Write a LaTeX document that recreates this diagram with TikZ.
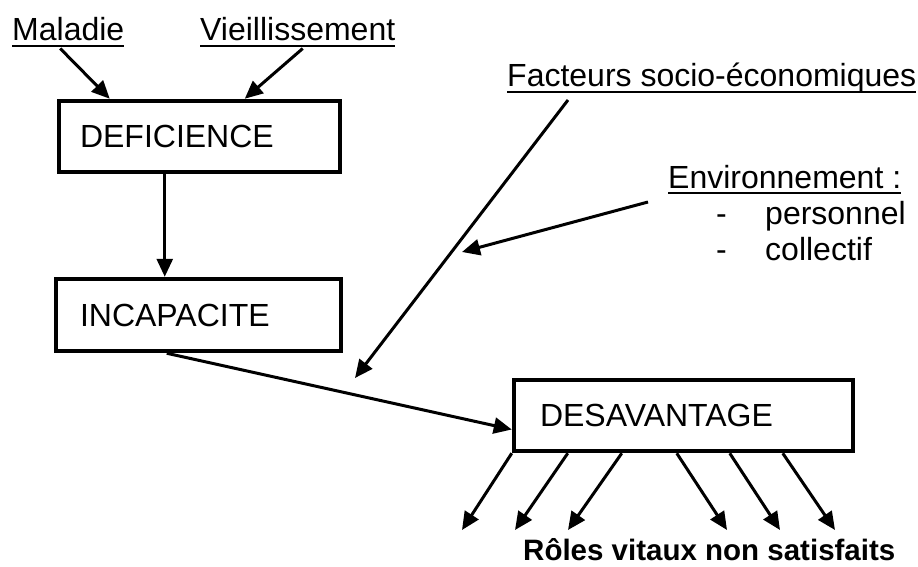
\documentclass[tikz,border=0pt]{standalone}
\usepackage{fontspec}
\setmainfont{Liberation Sans}
\usetikzlibrary{arrows.meta,calc}
\begin{document}
\begin{tikzpicture}[x=1pt,y=-1pt,
  txt/.style={inner sep=0pt, anchor=base west, font=\fontsize{32}{38}\selectfont},
  boldtxt/.style={inner sep=0pt, anchor=base west, font=\fontsize{29.5}{35}\selectfont\bfseries},
  box/.style={draw, line width=4.5pt, minimum height=71pt, align=left, inner ysep=0pt,
              font=\fontsize{32}{38}\selectfont},
  ul/.style={line width=2pt},
  arr/.style={line width=3pt, -{Triangle[length=18pt,width=16pt]}},
]
\useasboundingbox (0,0) rectangle (918,567);

% boxes
\node[box, text width=239pt, inner xsep=21pt] (def) at (199.5,136.5) {DEFICIENCE};
\node[box, text width=237pt, inner xsep=24pt, minimum height=72pt] (inc) at (198.5,315) {INCAPACITE};
\node[box, text width=287pt, inner xsep=26pt] (des) at (683.5,415.5) {DESAVANTAGE};

% labels
\node[txt] (mal) at (12,41) {Maladie};
\node[txt] (vie) at (200,41) {Vieillissement};
\node[txt] (fac) at (507,87) {Facteurs socio-économiques};
\node[txt] (env) at (668,188) {Environnement :};
\node[txt] (d1) at (716,224) {-};
\node[txt] (pers) at (765,224) {personnel};
\node[txt] (d2) at (716,260) {-};
\node[txt] (coll) at (765,260) {collectif};
\node[boldtxt] (roles) at (523,560) {Rôles vitaux non satisfaits};

% underlines
\draw[ul] ([yshift=-5pt]mal.base west) -- ([yshift=-5pt]mal.base east);
\draw[ul] ([yshift=-5pt]vie.base west) -- ([yshift=-5pt]vie.base east);
\draw[ul] ([yshift=-5pt]fac.base west) -- ([yshift=-5pt]fac.base east);
\draw[ul] ([yshift=-5pt]env.base west) -- ([yshift=-5pt]env.base east);

% free ends
\coordinate (facEnd) at (355,378);
\coordinate (envEnd) at (462,252);
\coordinate (r1) at (462,530);
\coordinate (r2) at (515,530);
\coordinate (r3) at (568,530);
\coordinate (r4) at (727,530);
\coordinate (r5) at (780,530);
\coordinate (r6) at (835,530);

% connectors
\draw[arr] ($(mal.south)+(-8,7)$) -- ($(def.north west)+(53,0)$);
\draw[arr] ($(vie.south)+(5,7)$) -- ($(def.north west)+(188,0)$);
\draw[arr] ($(def.south west)+(108,0)$) coordinate (a) -- (a |- inc.north);
\draw[arr] ($(inc.south west)+(113,0)$) -- ($(des.west)+(0,14)$);
\draw[arr] ($(fac.base west)+(61,13)$) -- (facEnd);
\draw[arr] ($(env.base west)+(-20,14)$) -- (envEnd);

\draw[arr] (des.south west) -- (r1);
\draw[arr] ($(des.south west)+(56,0)$) -- (r2);
\draw[arr] ($(des.south west)+(110,0)$) -- (r3);
\draw[arr] ($(des.south west)+(165,0)$) -- (r4);
\draw[arr] ($(des.south west)+(218,0)$) -- (r5);
\draw[arr] ($(des.south west)+(271,0)$) -- (r6);
\end{tikzpicture}
\end{document}
